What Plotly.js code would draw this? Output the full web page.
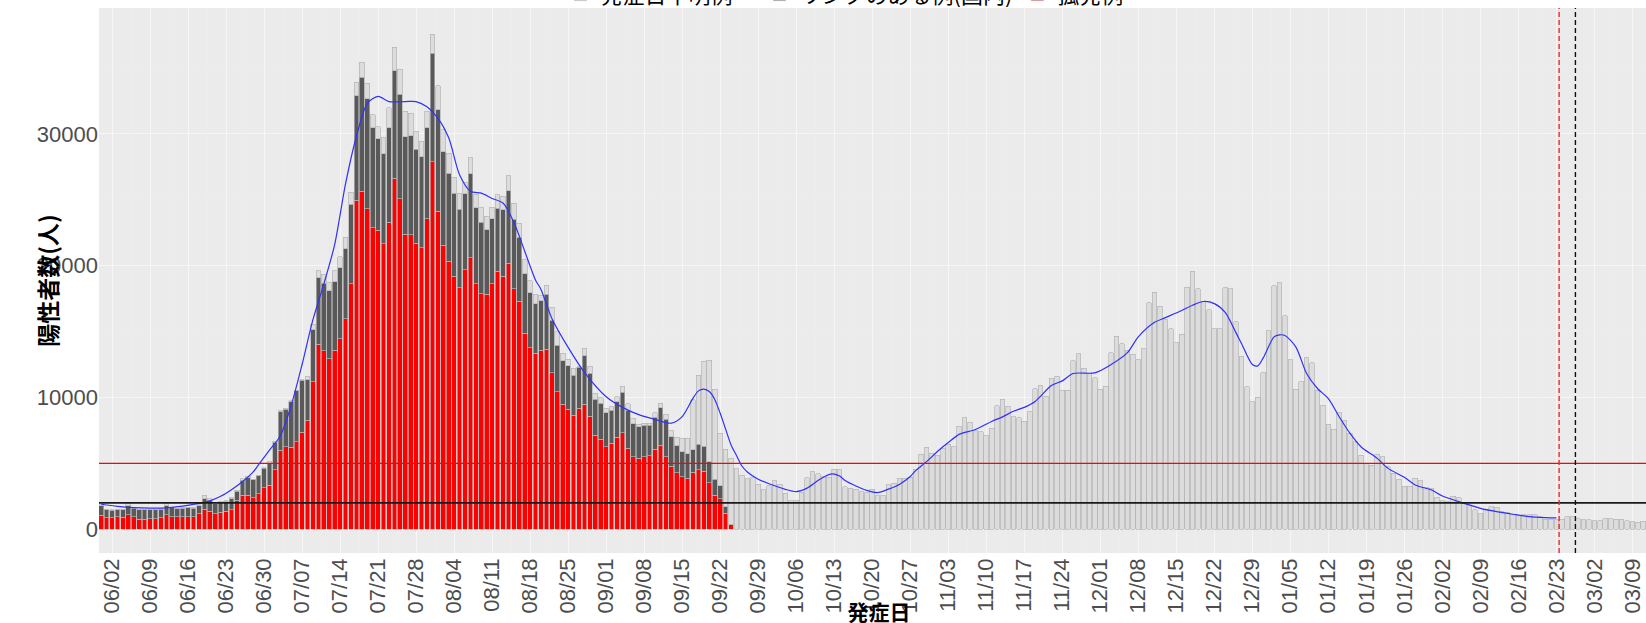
<!DOCTYPE html>
<html><head><meta charset="utf-8">
<script src="https://cdn.plot.ly/plotly-3.0.1.min.js"></script>
<style>
html,body{margin:0;padding:0;overflow:hidden;background:#ffffff;}
#chart{width:1646px;height:653px;margin-top:-30px;}
</style>
</head><body>
<div id="chart"></div>
<script>
// first onset date of the bar series (day 0)
const startDate = '2022-05-31';

// 孤発例 (red), per day from startDate
const isolated = [
1066,858,858,936,910,1092,936,780,780,800,
810,884,1092,962,962,936,936,936,1170,1534,
1378,1196,1300,1352,1482,2200,2590,2590,2410,2710,
3140,3340,4520,5980,6280,6230,6660,7360,8260,11190,
14040,13530,12950,13590,14470,15980,18640,24950,25650,24320,
22880,22680,21670,23310,26640,25070,22370,22350,21720,21360,
23560,27900,24140,21540,20350,19190,18330,19700,20600,18640,
17880,17830,18640,19590,19190,20200,18260,17300,14870,13790,
13340,13590,13650,11880,10440,9480,9100,8670,9170,9500,
8590,7130,6820,6270,6520,6980,7330,6140,5510,5380,
5510,5560,6070,6370,5510,4800,4300,3990,3870,4330,
4500,4400,3540,2600,2300,1210,380
];

// リンクのある例(国内) (dark grey), per day from startDate
const linked = [
728,624,572,546,572,702,650,702,702,682,
672,650,702,676,598,676,702,676,624,780,
832,754,754,754,832,700,1130,1330,1360,1360,
1480,1660,2090,2940,2840,3450,3840,3940,3100,3960,
5050,5150,5130,5180,5380,5300,6010,7950,8640,8330,
7570,6940,6820,7150,8160,7950,7420,7520,7100,6920,
6890,8230,7680,7120,6670,6310,5960,5760,6360,5760,
5400,4900,4920,4770,5050,5500,5280,4870,4520,4140,
3760,3760,4200,3990,3540,3310,3290,3030,3110,3660,
3230,2730,2730,2580,2530,2700,3060,2860,2480,2400,
2400,2350,2430,2860,2830,2220,2020,1900,1850,1720,
1950,1900,1590,1190,990,510,20
];

// 発症日不明例 (light grey), per day from startDate
const unknownOnset = [
60,40,40,40,40,150,50,40,30,30,
30,40,150,50,40,40,50,40,80,260,
100,100,50,50,90,50,130,100,40,40,
40,130,60,80,80,60,60,60,240,400,
510,660,610,830,810,880,930,1010,1140,1190,
1010,930,1210,1520,1770,1890,1920,1690,1390,1160,
1260,1440,1820,1640,1520,1210,1210,880,1210,1010,
1110,1010,880,1040,1010,1140,1210,1060,1060,910,
720,400,680,960,1010,560,510,510,50,560,
560,460,430,330,250,380,480,510,430,180,
130,130,350,330,400,460,660,1010,1180,3780,
5250,6460,7710,6820,3990,4345,4980,
4600,4100,3850,3900,3400,3000,3300,3700,3400,2750,
2150,2200,2800,3900,4350,4200,4000,3940,4550,4500,
3230,3110,3030,2850,2780,3030,2530,2600,3360,3490,
3860,3860,3940,4550,5710,6210,5760,5630,6140,6460,
6260,7830,8480,8110,7470,7400,7100,7650,9370,9850,
9340,8540,8480,8180,8910,10680,10930,10100,11440,11620,
10560,10560,12780,13330,12200,11820,11510,10610,10860,13380,
14650,14090,13590,13280,12880,13710,17200,18000,16920,15910,
15230,14140,14800,18380,19590,18260,17250,16670,15230,15230,
18310,18260,15730,13130,10810,9670,10000,11870,15050,18460,
18690,16210,12880,10610,11190,13000,12630,10560,9420,7980,
7600,8840,8280,7270,6640,5630,5000,4870,5710,5510,
4750,4240,3790,3280,3280,3860,3690,3180,3110,2420,
2170,2100,2525,2400,1970,1770,1470,1160,1470,1720,
1670,1340,1260,1140,1010,1090,1110,1110,960,760,
760,710,760,960,960,810,710,710,660,660,
810,810,760,760,630,560,530,610
];

// smoothed trend (blue), read at day offsets from startDate
const smoothDay = [0,3,6,9,12,15,18,20,22,24,26,28,29,31,33,35,37,39,41,43,45,47,49,51,53,56,58,60,62,64,66,68,70,72,74,76,78,80,81,83,86,89,93,96,99,102,105,107,108,109,110,111,112,113,114,115,116,117,118,119,121,123,126,128,130,132,134,135,136,137,139,141,143,145,147,149,150,152,154,156,158,161,164,166,168,170,172,175,177,179,183,186,189,191,194,196,199,201,203,205,207,209,210,212,213,214,216,217,218,220,222,224,226,228,230,232,235,237,240,242,245,247,251,254,257,260,263,266,268];
const smoothValue = [1900,1740,1640,1600,1620,1750,1960,2150,2500,3000,3600,4350,4900,6000,7100,9400,12500,15900,18600,21600,26200,29800,32300,32850,32450,32450,32450,32050,31200,29700,26900,25650,25500,25100,24750,23300,21100,18900,18200,16000,13800,11900,10050,9250,8700,8340,8050,8550,9200,9950,10500,10640,10450,9850,8800,7600,6400,5600,4800,4350,3800,3450,3030,2860,3120,3700,4150,4190,4040,3700,3280,2950,2780,3050,3400,4000,4450,5130,5900,6580,7200,7570,8180,8530,8950,9250,9700,10900,11260,11820,11870,12500,13400,14600,15700,16060,16600,17000,17280,17120,16450,14900,14100,12500,12400,13000,14600,14750,14700,13840,11820,10680,9920,8540,7270,6260,5380,4620,3940,3360,2980,2525,1970,1590,1340,1140,960,884,860];

// reference levels and marker dates
const hLineValues = [5000, 2000];
const hLineColors = ['#FF0000', '#1A1A1A'];
const vLineDates = ['2023-02-23 12:00', '2023-02-26 12:00'];
const vLineColors = ['#FF2020', '#111111'];

const seriesNames = ['発症日不明例', 'リンクのある例(国内)', '孤発例'];

function dayToDate(n) {
  const d = new Date(startDate + 'T00:00:00Z');
  d.setUTCDate(d.getUTCDate() + n);
  return d.toISOString().slice(0, 10);
}
const allDates = unknownOnset.map((_, i) => dayToDate(i));
const DAY = 86400000;
const barLine = {color: '#B4B4B4', width: 0.7};

const traces = [
  {type: 'bar', name: seriesNames[2], x: allDates.slice(0, isolated.length), y: isolated,
   width: 0.86 * DAY, marker: {color: '#FF0000', line: barLine}},
  {type: 'bar', name: seriesNames[1], x: allDates.slice(0, linked.length), y: linked,
   width: 0.86 * DAY, marker: {color: '#595959', line: barLine}},
  {type: 'bar', name: seriesNames[0] + '\u3000', x: allDates, y: unknownOnset,
   width: 0.86 * DAY, marker: {color: '#DCDCDC', line: barLine}},
  {type: 'scatter', mode: 'lines', x: smoothDay.map(dayToDate), y: smoothValue,
   line: {color: '#3030FF', width: 1.2, shape: 'spline', smoothing: 0.8},
   showlegend: false, hoverinfo: 'skip'}
];

const shapes = [];
hLineValues.forEach((v, k) => shapes.push({type: 'line', xref: 'paper', x0: 0, x1: 1, yref: 'y', y0: v, y1: v,
  line: {color: hLineColors[k], width: k === 0 ? 1.3 : 1.6}}));
vLineDates.forEach((d, k) => shapes.push({type: 'line', xref: 'x', x0: d, x1: d, yref: 'paper', y0: 0, y1: 1,
  line: {color: vLineColors[k], width: 1.4, dash: '5px,3px'}}));

const tickFont = {family: 'Liberation Sans, Arial, sans-serif', size: 22, color: '#4D4D4D'};
const yTitleFont = {family: 'Noto Sans CJK JP, sans-serif', size: 23, color: '#000000', weight: 'bold'};
const xTitleFont = {family: 'Noto Sans CJK JP, sans-serif', size: 21, color: '#000000', weight: 'bold'};

const layout = {
  width: 1646, height: 653,
  margin: {l: 99, r: 0, t: 38, b: 70, autoexpand: false},
  paper_bgcolor: '#FFFFFF', plot_bgcolor: '#EBEBEB',
  barmode: 'stack',
  showlegend: true,
  legend: {orientation: 'h', x: 0.2983, xanchor: 'left', y: 1.0242, yanchor: 'middle',
    traceorder: 'reversed', bgcolor: 'rgba(0,0,0,0)',
    font: {family: 'Noto Sans CJK JP, sans-serif', size: 22, color: '#000000'}},
  xaxis: {type: 'date', range: ['2022-05-30 14:24', '2023-03-11 12:00'],
    tick0: '2022-06-02', dtick: 7 * DAY, tickformat: '%m/%d', tickangle: -90,
    ticks: '', tickfont: tickFont, showline: false, zeroline: false,
    showgrid: true, gridcolor: '#F6F6F6', gridwidth: 1,
    minor: {tick0: '2022-06-05 12:00', dtick: 7 * DAY, showgrid: true, gridcolor: '#EFEFEF', gridwidth: 0.6},
    title: {text: '発症日', font: xTitleFont, standoff: 0}},
  yaxis: {range: [-1800, 39550], tickvals: [0, 10000, 20000, 30000], tickformat: 'd',
    ticks: '', tickfont: tickFont, showline: false, zeroline: false,
    showgrid: true, gridcolor: '#F6F6F6', gridwidth: 1,
    minor: {tickvals: [5000, 15000, 25000, 35000], showgrid: true, gridcolor: '#EFEFEF', gridwidth: 0.6},
    title: {text: '陽性者数(人)', font: yTitleFont}},
  shapes: shapes
};

// nudge an axis title so its centre sits at a given on-screen position
function placeTitle(sel, cx, cy) {
  const t = document.querySelector(sel);
  if (!t) return;
  const r = t.getBoundingClientRect();
  const dx = cx === null ? 0 : cx - (r.left + r.width / 2);
  const dy = cy === null ? 0 : cy - (r.top + r.height / 2);
  t.setAttribute('transform', 'translate(' + dx + ',' + dy + ') ' + (t.getAttribute('transform') || ''));
}

Plotly.newPlot('chart', traces, layout, {displayModeBar: false, staticPlot: true}).then(() => {
  placeTitle('.ytitle', 47, null);
  placeTitle('.xtitle', 879, 611);
});
</script>
</body></html>
